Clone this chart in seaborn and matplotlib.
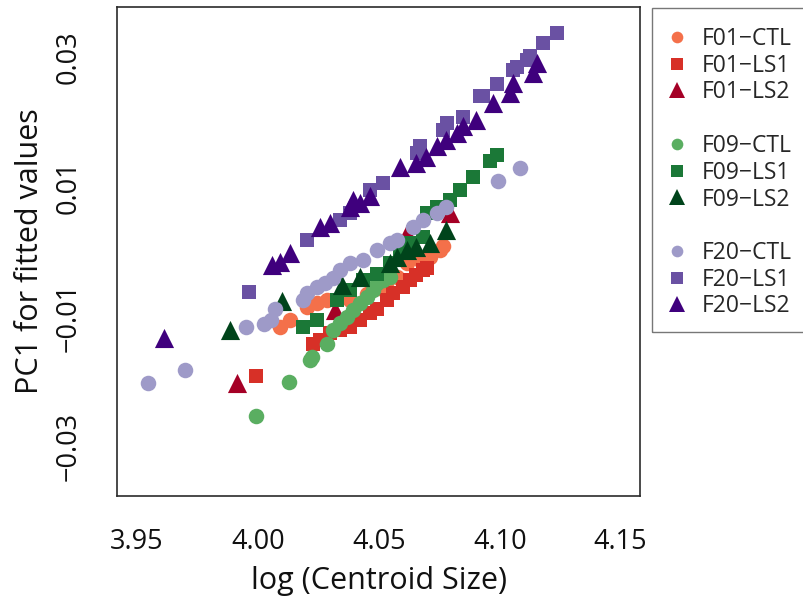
import matplotlib
matplotlib.use('Agg')
import matplotlib.pyplot as plt
import seaborn as sns
import pandas as pd
from matplotlib.lines import Line2D
from matplotlib.patches import Rectangle

MINUS = '\u2212'

# data (log centroid size, PC1 fitted values)
f01_ctl_x = [4.0091, 4.0133, 4.0202, 4.0243, 4.0284, 4.0381, 4.0450, 4.0500, 4.0530, 4.0574, 4.0615, 4.0670, 4.0711, 4.0753, 4.0767]
f01_ctl_y = [-0.0115, -0.0105, -0.0084, -0.0079, -0.0074, -0.0074, -0.0064, -0.0055, -0.0047, -0.0038, -0.0017, -0.0012, -0.0007, 0.0003, 0.0009]

f01_ls1_x = [3.9992, 4.0229, 4.0257, 4.0298, 4.0339, 4.0380, 4.0422, 4.0463, 4.0491, 4.0532, 4.0560, 4.0601, 4.0629, 4.0656, 4.0684, 4.0698]
f01_ls1_y = [-0.0191, -0.0141, -0.0135, -0.0125, -0.0120, -0.0115, -0.0105, -0.0094, -0.0087, -0.0074, -0.0063, -0.0053, -0.0043, -0.0035, -0.0027, -0.0024]

f01_ls2_x = [3.9912, 4.0319, 4.0615, 4.0794]
f01_ls2_y = [-0.0202, -0.0089, 0.0029, 0.0060]

f09_ctl_x = [3.9991, 4.0128, 4.0215, 4.0225, 4.0284, 4.0312, 4.0339, 4.0367, 4.0394, 4.0422, 4.0450, 4.0477, 4.0491, 4.0518, 4.0546]
f09_ctl_y = [-0.0253, -0.0200, -0.0166, -0.0161, -0.0141, -0.0120, -0.0110, -0.0100, -0.0089, -0.0079, -0.0069, -0.0058, -0.0048, -0.0043, -0.0038]

f09_ls1_x = [4.0188, 4.0243, 4.0326, 4.0381, 4.0436, 4.0491, 4.0546, 4.0587, 4.0629, 4.0684, 4.0698, 4.0739, 4.0794, 4.0836, 4.0891, 4.0960, 4.0987]
f09_ls1_y = [-0.0115, -0.0105, -0.0074, -0.0058, -0.0043, -0.0033, -0.0017, -0.0002, 0.0014, 0.0024, 0.0060, 0.0070, 0.0081, 0.0096, 0.0116, 0.0140, 0.0150]

f09_ls2_x = [3.9885, 4.0098, 4.0350, 4.0422, 4.0546, 4.0574, 4.0615, 4.0656, 4.0711, 4.0780]
f09_ls2_y = [-0.0120, -0.0076, -0.0050, -0.0038, -0.0017, -0.0007, 0.0003, 0.0008, 0.0014, 0.0034]

f20_ctl_x = [3.9544, 3.9700, 3.9950, 4.0025, 4.0053, 4.0073, 4.0188, 4.0202, 4.0243, 4.0278, 4.0312, 4.0339, 4.0381, 4.0436, 4.0491, 4.0546, 4.0574, 4.0642, 4.0684, 4.0739, 4.0780, 4.0994, 4.1084]
f20_ctl_y = [-0.0202, -0.0182, -0.0116, -0.0111, -0.0104, -0.0088, -0.0074, -0.0063, -0.0053, -0.0048, -0.0040, -0.0027, -0.0017, -0.0012, 0.0003, 0.0014, 0.0019, 0.0039, 0.0050, 0.0060, 0.0070, 0.0109, 0.0130]

f20_ls1_x = [3.9964, 4.0202, 4.0340, 4.0381, 4.0464, 4.0519, 4.0657, 4.0670, 4.0767, 4.0781, 4.0849, 4.0918, 4.0932, 4.0987, 4.1056, 4.1070, 4.1111, 4.1125, 4.1180, 4.1236]
f20_ls1_y = [-0.0061, 0.0019, 0.0050, 0.0060, 0.0096, 0.0106, 0.0153, 0.0163, 0.0189, 0.0199, 0.0209, 0.0240, 0.0240, 0.0260, 0.0281, 0.0286, 0.0297, 0.0302, 0.0322, 0.0338]

f20_ls2_x = [3.9613, 4.0057, 4.0091, 4.0133, 4.0257, 4.0298, 4.0381, 4.0395, 4.0422, 4.0463, 4.0587, 4.0656, 4.0697, 4.0739, 4.0780, 4.0822, 4.0849, 4.0904, 4.0973, 4.1042, 4.1056, 4.1139, 4.1153]
f20_ls2_y = [-0.0133, -0.0020, -0.0015, -0.0002, 0.0039, 0.0045, 0.0070, 0.0081, 0.0075, 0.0086, 0.0132, 0.0137, 0.0147, 0.0163, 0.0173, 0.0183, 0.0194, 0.0204, 0.0230, 0.0245, 0.0261, 0.0276, 0.0291]

groups = ['F01', 'F09', 'F20']
treatments = ['CTL', 'LS1', 'LS2']

series = {
    ('F01', 'CTL'): (f01_ctl_x, f01_ctl_y), ('F01', 'LS1'): (f01_ls1_x, f01_ls1_y), ('F01', 'LS2'): (f01_ls2_x, f01_ls2_y),
    ('F09', 'CTL'): (f09_ctl_x, f09_ctl_y), ('F09', 'LS1'): (f09_ls1_x, f09_ls1_y), ('F09', 'LS2'): (f09_ls2_x, f09_ls2_y),
    ('F20', 'CTL'): (f20_ctl_x, f20_ctl_y), ('F20', 'LS1'): (f20_ls1_x, f20_ls1_y), ('F20', 'LS2'): (f20_ls2_x, f20_ls2_y),
}

colors = {
    ('F01', 'CTL'): '#F4704A', ('F01', 'LS1'): '#D73027', ('F01', 'LS2'): '#A50026',
    ('F09', 'CTL'): '#5AAE61', ('F09', 'LS1'): '#1B7837', ('F09', 'LS2'): '#00441B',
    ('F20', 'CTL'): '#9E9AC8', ('F20', 'LS1'): '#6A51A3', ('F20', 'LS2'): '#3F007D',
}
markers = {'CTL': 'o', 'LS1': 's', 'LS2': '^'}
sizes = {'CTL': 125, 'LS1': 112, 'LS2': 190}
leg_sizes = {'CTL': 8.4, 'LS1': 8.0, 'LS2': 11.0}

sns.set_style('white')
plt.rcParams['font.family'] = ['Open Sans', 'DejaVu Sans']

fig = plt.figure(figsize=(8.04, 6.07), dpi=100)
ax = fig.add_axes([0.1459, 0.1829, 0.6501, 0.8056])

for g in groups:
    for t in treatments:
        xs, ys = series[(g, t)]
        df = pd.DataFrame({'x': xs, 'y': ys})
        sns.scatterplot(data=df, x='x', y='y', color=colors[(g, t)], marker=markers[t],
                        s=sizes[t], linewidth=0, ax=ax, legend=False)

ax.set_xlim(3.9419, 4.158)
ax.set_ylim(-0.0376, 0.0378)

ax.set_xticks([3.95, 4.00, 4.05, 4.10, 4.15])
ax.set_xticklabels(['3.95', '4.00', '4.05', '4.10', '4.15'])
yt = [-0.03, -0.02, -0.01, 0.0, 0.01, 0.02, 0.03]
ax.set_yticks(yt)
ax.set_yticklabels([MINUS + '0.03', '', MINUS + '0.01', '', '0.01', '', '0.03'],
                   rotation=90, va='center')

ax.tick_params(axis='both', direction='out', length=11, width=1, color='#b5b5b5',
               labelsize=19.5, labelcolor='#111111')
ax.tick_params(axis='x', pad=12)
ax.tick_params(axis='y', pad=14)

for sp in ax.spines.values():
    sp.set_color('#2b2b2b')
    sp.set_linewidth(1.2)

ax.set_xlabel('log (Centroid Size)', fontsize=22, labelpad=7, color='#111111')
ax.set_ylabel('PC1 for fitted values', fontsize=22, labelpad=7, color='#111111')

# legend with blank rows between the three lines
handles, labels = [], []
for i, g in enumerate(groups):
    if i > 0:
        handles.append(Line2D([], [], linestyle='', marker=''))
        labels.append('')
    for t in treatments:
        handles.append(Line2D([], [], linestyle='', marker=markers[t], color=colors[(g, t)],
                              markersize=leg_sizes[t], markeredgewidth=0))
        labels.append(f'{g}{MINUS}{t}')

ax.legend(handles, labels, loc='upper left', bbox_to_anchor=(660 / 804, 1 - 27 / 607),
          bbox_transform=fig.transFigure, frameon=False, fontsize=16.5, borderpad=0,
          borderaxespad=0, handlelength=1.45, handletextpad=0.36, labelspacing=0.12)

frame = Rectangle((652 / 804, 1 - 332 / 607), 0.3, 324 / 607, transform=fig.transFigure,
                  fill=False, edgecolor='#777777', linewidth=1, clip_on=False)
fig.patches.append(frame)

fig.savefig('out.png', dpi=100)
